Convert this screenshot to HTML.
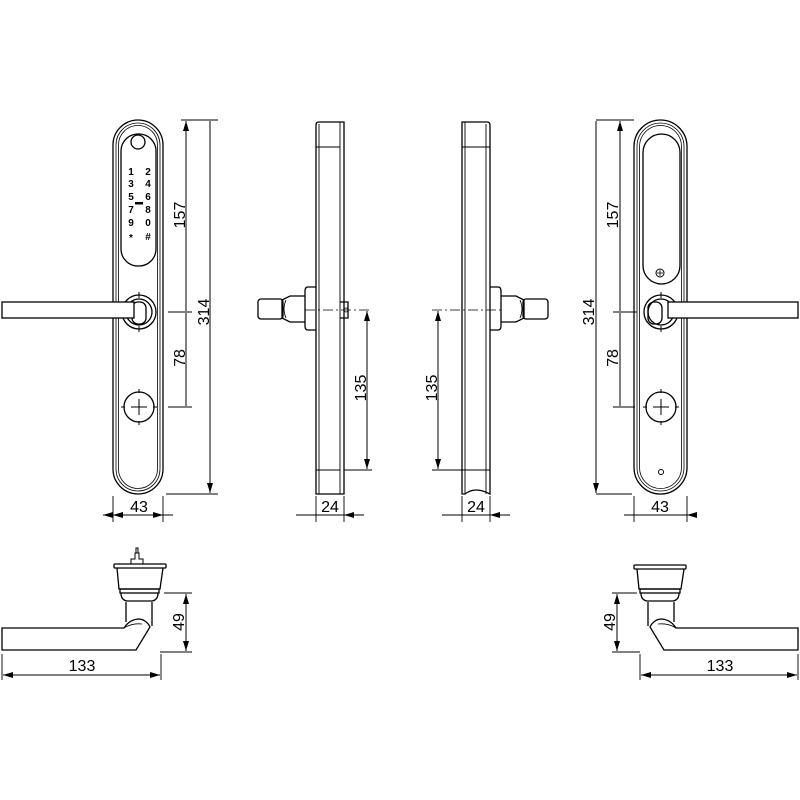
<!DOCTYPE html>
<html><head><meta charset="utf-8"><style>html,body{margin:0;padding:0;background:#fff}svg{display:block}text{font-family:"Liberation Sans",sans-serif;fill:#000}</style></head>
<body>
<svg width="800" height="800" viewBox="0 0 800 800" xmlns="http://www.w3.org/2000/svg">
<defs>
<marker id="a" viewBox="0 0 10 6" refX="10" refY="3" markerWidth="10" markerHeight="6" orient="auto-start-reverse" markerUnits="userSpaceOnUse"><path d="M0,0L10,3L0,6z" fill="#000"/></marker>
</defs>
<g fill="none" stroke="#000" stroke-width="1.3">
<!-- LEFT PLATE -->
<rect x="113" y="120" width="50" height="374" rx="25"/>
<rect x="116" y="123" width="44" height="368" rx="22" stroke-width="0.8"/>
<rect x="118.5" y="125.5" width="39" height="363" rx="19.5" stroke-width="0.8"/>
<rect x="121" y="134" width="35" height="132" rx="17"/>
<circle cx="138" cy="142" r="7"/>
<circle cx="139" cy="312" r="17"/>
<circle cx="139" cy="312" r="13"/>
<rect x="132" y="302" width="14" height="22" rx="6"/>
<rect x="2" y="302" width="132" height="16" fill="#fff"/>
<circle cx="139" cy="407" r="15"/>
<path d="M131,407h16M139,399v16M139,389v4M139,421v4M121,407h4M153,407h4M139,292v6M139,326v6" stroke-width="1"/>
<path d="M181,120h37M168,312h24M168,407h24M166,494h52M113,496v26M163,496v26" stroke-width="0.9"/>
<path d="M186,121V311M186,313V406M210,121V493" stroke-width="1" marker-start="url(#a)" marker-end="url(#a)"/>
<path d="M103,515H163" stroke-width="1" marker-start="url(#a)" marker-end="url(#a)"/>
<path d="M173,515H113" stroke-width="1" marker-end="url(#a)"/>

<!-- SIDE VIEW 1 -->
<path d="M316,494V125q0-3 3-3h25V494Z"/>
<path d="M319,124V494M340,122V494M344,122V494" stroke-width="0.9"/>
<path d="M316,147H340M316,470H340" stroke-width="1"/>
<path d="M316,287h-8q-3,0-3,4v35q0,4 3,4h8"/>
<path d="M305,296h-15l-8,4v18l8,4h15"/>
<path d="M286,300q-4,9 0,18" stroke-width="0.8"/>
<rect x="258" y="299" width="25" height="20" rx="3"/>
<path d="M340,302h8v16h-8"/>
<circle cx="346" cy="310" r="2" stroke-width="0.8"/>
<path d="M305,310H372" stroke-width="0.8" stroke-dasharray="10,3,2,3"/>
<path d="M344,470h28M316,496v26M344,496v26" stroke-width="0.9"/>
<path d="M367,311V469" stroke-width="1" marker-start="url(#a)" marker-end="url(#a)"/>
<path d="M296,515H316M364,515H344" stroke-width="1" marker-end="url(#a)"/>
<path d="M296,515H364" stroke-width="1"/>

<!-- SIDE VIEW 2 -->
<path d="M490,125q0-3-3-3H462V494h3q10-8 25,0Z"/>
<path d="M465,122V494M486,124V494" stroke-width="0.9"/>
<path d="M462,147H490M462,470H490" stroke-width="1"/>
<path d="M490,287h8q3,0 3,4v35q0,4-3,4h-8"/>
<path d="M501,296h15l8,4v18l-8,4h-15"/>
<path d="M520,300q4,9 0,18" stroke-width="0.8"/>
<rect x="523" y="299" width="25" height="20" rx="3"/>
<path d="M432,310H501" stroke-width="0.8" stroke-dasharray="10,3,2,3"/>
<path d="M432,470h30M462,496v26M490,496v26" stroke-width="0.9"/>
<path d="M438,311V469" stroke-width="1" marker-start="url(#a)" marker-end="url(#a)"/>
<path d="M442,515H462M510,515H490" stroke-width="1" marker-end="url(#a)"/>
<path d="M442,515H510" stroke-width="1"/>

<!-- RIGHT PLATE -->
<rect x="634" y="120" width="53" height="374" rx="26.5"/>
<rect x="637" y="123" width="47" height="368" rx="23.5" stroke-width="0.8"/>
<rect x="639.5" y="125.5" width="42" height="363" rx="21" stroke-width="0.8"/>
<rect x="643" y="134" width="37" height="150" rx="18.5"/>
<circle cx="660" cy="273" r="4" stroke-width="1"/>
<path d="M657,273h6M660,270v6" stroke-width="0.8"/>
<circle cx="661" cy="312" r="17"/>
<circle cx="661" cy="312" r="13"/>
<rect x="648" y="302" width="14" height="22" rx="6"/>
<rect x="668" y="302" width="130" height="16" fill="#fff"/>
<circle cx="661" cy="407" r="15"/>
<path d="M653,407h16M661,399v16M661,389v4M661,421v4M643,407h4M675,407h4M661,292v6M661,326v6" stroke-width="1"/>
<circle cx="661" cy="472" r="2.5" stroke-width="1"/>
<path d="M596,120h36M614,120h20M613,312h24M613,407h22M596,494h36M634,496v26M687,496v26" stroke-width="0.9"/>
<path d="M620,121V311M620,313V406M596,121V493" stroke-width="1" marker-start="url(#a)" marker-end="url(#a)"/>
<path d="M624,515H634M697,515H687" stroke-width="1" marker-end="url(#a)"/>
<path d="M624,515H697" stroke-width="1"/>

<!-- BOTTOM LEFT -->
<path d="M2,628H124q5-8 14-9q8,0 12,8L136,650H2Z"/>
<path d="M124,628q8-5 18-4" stroke-width="0.8"/>
<path d="M126,622V602M152,626V602" />
<path d="M117,568L119,589H160L163,568"/>
<rect x="120" y="589" width="39" height="4"/>
<path d="M121,593q0,7 6,8h25q6-1 6-8"/>
<rect x="114" y="564" width="52" height="4" rx="1"/>
<path d="M131,564v-5h4v-6h4v6h4v5" stroke-width="1"/>
<path d="M136,553v-5h2v5" stroke-width="1"/>
<path d="M164,593h28M160,652h32M2,654v26M161,654v26" stroke-width="0.9"/>
<path d="M186,594V651" stroke-width="1" marker-start="url(#a)" marker-end="url(#a)"/>
<path d="M3,675H160" stroke-width="1" marker-start="url(#a)" marker-end="url(#a)"/>

<!-- BOTTOM RIGHT -->
<path d="M798,628H676q-5-8-14-9q-8,0-12,8L664,650H798Z"/>
<path d="M676,628q-8-5-18-4" stroke-width="0.8"/>
<path d="M674,622V602M648,626V602"/>
<path d="M637,569L639,589H681L684,569"/>
<rect x="640" y="589" width="40" height="4"/>
<path d="M641,593q0,7 6,8h26q6-1 6-8"/>
<rect x="634" y="565" width="52" height="4" rx="1"/>
<path d="M612,593h25M612,652h28M640,654v26M798,654v26" stroke-width="0.9"/>
<path d="M617,594V651" stroke-width="1" marker-start="url(#a)" marker-end="url(#a)"/>
<path d="M641,675H797" stroke-width="1" marker-start="url(#a)" marker-end="url(#a)"/>
</g>

<g font-size="10" font-weight="bold" text-anchor="middle">
<text x="131" y="175">1</text><text x="148" y="175">2</text>
<text x="131" y="187">3</text><text x="148" y="187">4</text>
<text x="131" y="200">5</text><text x="148" y="200">6</text>
<text x="131" y="213">7</text><text x="148" y="213">8</text>
<text x="131" y="226">9</text><text x="148" y="226">0</text>
<text x="131" y="241">*</text><text x="148" y="240">#</text>
</g>
<rect x="135" y="202" width="8" height="2.5" fill="#000"/>

<g font-size="16" text-anchor="middle">
<text transform="translate(185,215) rotate(-90)">157</text>
<text transform="translate(209,312) rotate(-90)">314</text>
<text transform="translate(185,358) rotate(-90)">78</text>
<text x="139" y="512">43</text>
<text transform="translate(366,388) rotate(-90)">135</text>
<text x="330" y="512">24</text>
<text transform="translate(437,388) rotate(-90)">135</text>
<text x="476" y="512">24</text>
<text transform="translate(618,215) rotate(-90)">157</text>
<text transform="translate(594,312) rotate(-90)">314</text>
<text transform="translate(618,358) rotate(-90)">78</text>
<text x="660" y="512">43</text>
<text transform="translate(184,622) rotate(-90)">49</text>
<text x="82" y="671">133</text>
<text transform="translate(615,622) rotate(-90)">49</text>
<text x="720" y="671">133</text>
</g>
</svg>
</body></html>
